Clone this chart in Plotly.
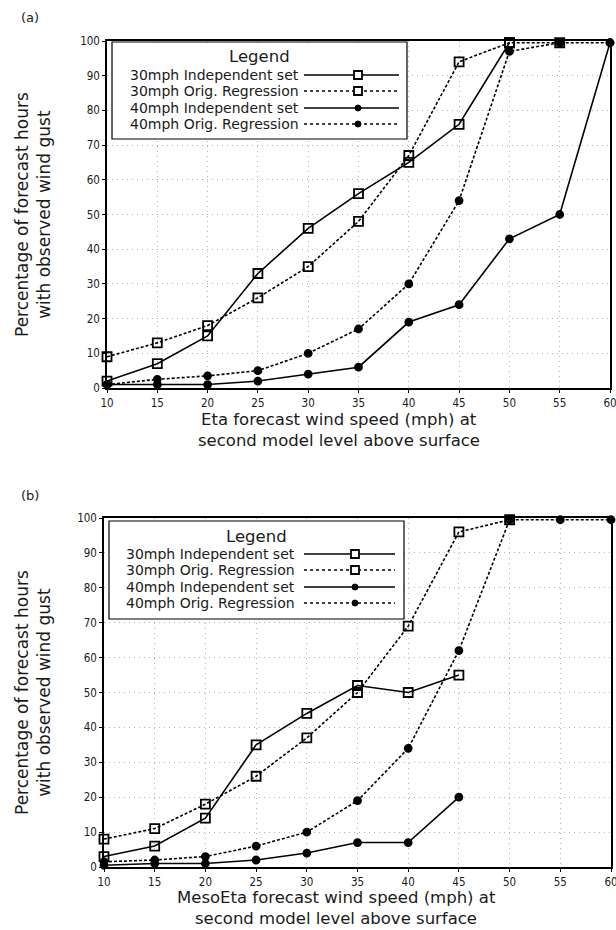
import plotly.graph_objects as go

# ---------------- data ----------------
wind_speed = [10, 15, 20, 25, 30, 35, 40, 45, 50, 55, 60]

# panel (a): Eta
a_30_indep = [2, 7, 15, 33, 46, 56, 65, 76, 99.5]
a_30_orig = [9, 13, 18, 26, 35, 48, 67, 94, 99.5, 99.5]
a_40_indep = [1, 1, 1, 2, 4, 6, 19, 24, 43, 50, 99.5]
a_40_orig = [1, 2.5, 3.5, 5, 10, 17, 30, 54, 97, 99.5, 99.5]

# panel (b): MesoEta
b_30_indep = [3, 6, 14, 35, 44, 52, 50, 55]
b_30_orig = [8, 11, 18, 26, 37, 50, 69, 96, 99.5]
b_40_indep = [0.5, 1, 1, 2, 4, 7, 7, 20]
b_40_orig = [1.5, 2, 3, 6, 10, 19, 34, 62, 99.5, 99.5, 99.5]

series_names = ["30mph Independent set", "30mph Orig. Regression",
                "40mph Independent set", "40mph Orig. Regression"]
x_ticks = [10, 15, 20, 25, 30, 35, 40, 45, 50, 55, 60]
y_ticks = [0, 10, 20, 30, 40, 50, 60, 70, 80, 90, 100]

panel_labels = ["(a)", "(b)"]
x_title_lines = [["Eta forecast wind speed (mph) at", "second model level above surface"],
                 ["MesoEta forecast wind speed (mph) at", "second model level above surface"]]
y_title = "Percentage of forecast hours<br>with observed wind gust"

# ---------------- styling ----------------
W, H = 616, 930
TXT = "#1a1a1a"
FONT = "DejaVu Sans"
TICKFONT = "DejaVu Sans Condensed, DejaVu Sans"

def px(x):
    return x / W

def py(y):
    return 1 - y / H

styles = [
    dict(dash="solid", symbol="square-open", msize=9),
    dict(dash="3px,2px", symbol="square-open", msize=9),
    dict(dash="solid", symbol="circle", msize=7),
    dict(dash="3px,2px", symbol="circle", msize=7),
]

panels = [
    dict(data=[a_30_indep, a_30_orig, a_40_indep, a_40_orig],
         xd=(107, 610), yd=(41, 388),
         legend_box=(112, 42, 407, 139), legend_rows=[75, 91, 108, 124], legend_title_y=57,
         text_right=300, line_x=(304, 399), mark_x=358,
         label_xy=(30, 17), xtitle_y=(419, 440), xtitle_x=339, ytitle_x=(20, 45)),
    dict(data=[b_30_indep, b_30_orig, b_40_indep, b_40_orig],
         xd=(104, 611), yd=(518, 867),
         legend_box=(109, 521, 404, 619), legend_rows=[554, 570, 587, 603], legend_title_y=536,
         text_right=296, line_x=(304, 395), mark_x=355,
         label_xy=(30, 495), xtitle_y=(897, 918), xtitle_x=336, ytitle_x=(20, 45)),
]

fig = go.Figure()
shapes = []
annotations = []

for i, p in enumerate(panels):
    xa = "x" if i == 0 else "x2"
    ya = "y" if i == 0 else "y2"
    for s, (vals, st) in enumerate(zip(p["data"], styles)):
        fig.add_trace(go.Scatter(
            x=wind_speed[:len(vals)], y=vals, xaxis=xa, yaxis=ya,
            mode="lines+markers", name=series_names[s], showlegend=False,
            line=dict(color="black", width=1.6, dash=st["dash"]),
            marker=dict(symbol=st["symbol"], size=st["msize"], color="black",
                        line=dict(color="black", width=1.8)),
            cliponaxis=False,
        ))

    axis_common = dict(showline=True, linecolor="black", linewidth=1.5, mirror=True,
                       ticks="outside", ticklen=3, tickcolor="black",
                       showgrid=True, gridcolor="#b4b4b4", griddash="1px,4px", gridwidth=1,
                       zeroline=False, ticklabeloverflow="allow",
                       tickfont=dict(family=TICKFONT, size=11.5, color=TXT))
    xkey = "xaxis" if i == 0 else "xaxis2"
    ykey = "yaxis" if i == 0 else "yaxis2"
    fig.update_layout(**{
        xkey: dict(axis_common, domain=[px(p["xd"][0]), px(p["xd"][1])], range=[10, 60],
                   tickvals=x_ticks, anchor=ya),
        ykey: dict(axis_common, domain=[py(p["yd"][1]), py(p["yd"][0])], range=[0, 100],
                   tickvals=y_ticks, anchor=xa),
    })

    # legend box
    x0, y0, x1, y1 = p["legend_box"]
    shapes.append(dict(type="rect", xref="paper", yref="paper",
                       x0=px(x0), x1=px(x1), y0=py(y1), y1=py(y0),
                       line=dict(color="black", width=1.2), fillcolor="white", layer="above"))
    annotations.append(dict(text="Legend", xref="paper", yref="paper",
                            x=px((x0 + x1) / 2), y=py(p["legend_title_y"]),
                            xanchor="center", yanchor="middle", showarrow=False, borderpad=0,
                            font=dict(family=FONT, size=16.5, color=TXT)))
    for s, (row_y, st) in enumerate(zip(p["legend_rows"], styles)):
        annotations.append(dict(text=series_names[s], xref="paper", yref="paper",
                                x=px(p["text_right"]), y=py(row_y),
                                xanchor="right", yanchor="middle", showarrow=False, borderpad=0,
                                font=dict(family=FONT, size=14, color=TXT)))
        dash = "solid" if st["dash"] == "solid" else "dot"
        shapes.append(dict(type="line", xref="paper", yref="paper",
                           x0=px(p["line_x"][0]), x1=px(p["line_x"][1]),
                           y0=py(row_y), y1=py(row_y), layer="above",
                           line=dict(color="black", width=1.6 if dash == "solid" else 1.4, dash=dash)))
        mx = p["mark_x"]
        if st["symbol"] == "square-open":
            r = 4
            shapes.append(dict(type="rect", xref="paper", yref="paper",
                               x0=px(mx - r), x1=px(mx + r), y0=py(row_y + r), y1=py(row_y - r),
                               fillcolor="white", line=dict(color="black", width=1.8), layer="above"))
        else:
            r = 3
            shapes.append(dict(type="circle", xref="paper", yref="paper",
                               x0=px(mx - r), x1=px(mx + r), y0=py(row_y + r), y1=py(row_y - r),
                               fillcolor="black", line=dict(color="black", width=1), layer="above"))

    # panel label
    annotations.append(dict(text=panel_labels[i], xref="paper", yref="paper",
                            x=px(p["label_xy"][0]), y=py(p["label_xy"][1]),
                            xanchor="center", yanchor="middle", showarrow=False,
                            font=dict(family=FONT, size=13, color=TXT)))
    # x title (two lines)
    for line_text, ly in zip(x_title_lines[i], p["xtitle_y"]):
        annotations.append(dict(text=line_text, xref="paper", yref="paper",
                                x=px(p["xtitle_x"]), y=py(ly),
                                xanchor="center", yanchor="middle", showarrow=False, borderpad=0,
                                font=dict(family=FONT, size=16.5, color=TXT)))
    # y title
    annotations.append(dict(text=y_title, xref="paper", yref="paper",
                            x=px((p["ytitle_x"][0] + p["ytitle_x"][1]) / 2),
                            y=py((p["yd"][0] + p["yd"][1]) / 2),
                            xanchor="center", yanchor="middle", showarrow=False, textangle=-90,
                            font=dict(family=FONT, size=17, color=TXT)))

fig.update_layout(
    width=W, height=H,
    margin=dict(l=0, r=0, t=0, b=0, autoexpand=False),
    paper_bgcolor="white", plot_bgcolor="white",
    shapes=shapes, annotations=annotations, showlegend=False,
)

fig.write_html(
    "out.html",
    config={"displayModeBar": False},
    post_script="document.body.style.margin='0';document.body.style.overflow='hidden';"
                "document.documentElement.style.overflow='hidden';",
)
